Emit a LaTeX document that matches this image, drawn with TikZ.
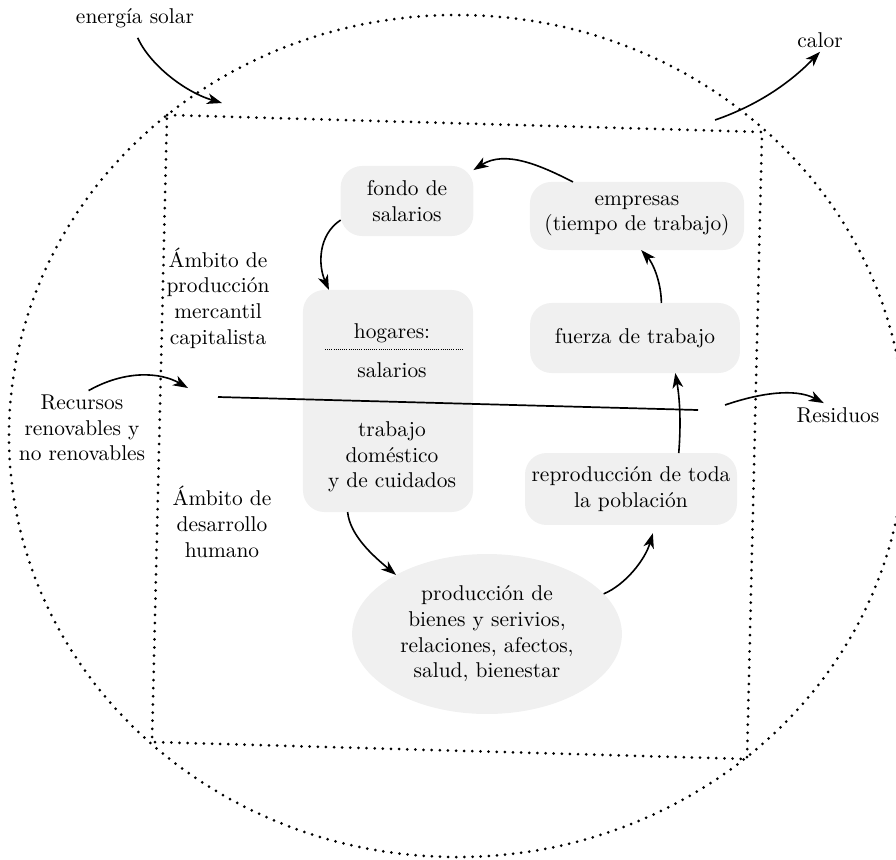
\documentclass[tikz,border=0pt]{standalone}
\usepackage{fontspec}
\usepackage{tikz}
\usetikzlibrary{shapes.geometric}
\usetikzlibrary{arrows.meta}

\begin{document}
\begin{tikzpicture}[x=0.467pt,y=-0.467pt]
\tikzstyle{stip}=[fill=black!6,rounded corners=10pt,inner sep=2pt,outer sep=0pt,align=center]
\tikzstyle{lbl}=[inner sep=2pt,outer sep=0pt,align=center]
\tikzstyle{flow}=[line width=0.75pt,-{Stealth[length=7pt,width=5pt,inset=2pt]}]
\tikzstyle{dotborder}=[line width=1.4pt,line cap=round,dash pattern=on 0pt off 3.8pt]
    \useasboundingbox (0,0) rectangle (896,859);
    \clip (0,0) rectangle (896,859);
    \draw[dotborder] (457,436) ellipse [x radius=448,y radius=421];
    \draw[dotborder] (167,115) -- (762,132) -- (747,759) -- (152,742) -- cycle;
    \node[lbl](sol) at (135,18){energía solar};
    \node[lbl](calor) at (820,40){calor};
    \node[lbl](recursos) at (82,428){Recursos\\renovables y\\no renovables};
    \node[lbl](residuos) at (838,415){Residuos};
    \node[lbl](ambmerc) at (218,298){Ámbito de\\producción\\mercantil\\capitalista};
    \node[lbl](ambdes) at (222,522){Ámbito de\\desarrollo\\humano};
    \node[stip,minimum width=62pt,minimum height=32.7pt](fondo) at (407,201){fondo de\\salarios};
    \node[stip,minimum width=100pt,minimum height=31.8pt](empresas) at (637,216){empresas\\(tiempo de trabajo)};
    \node[stip,minimum width=98pt,minimum height=32.7pt](fuerza) at (635,338){fuerza de trabajo};
    \node[stip,minimum width=79.4pt,minimum height=103.7pt](hogcol) at (388,401){};
    \node[lbl](hogares) at (392,333){hogares:};
    \node[lbl](salarios) at (392,370){salarios};
    \node[lbl](trabajo) at (392,457){trabajo\\doméstico\\y de cuidados};
    \node[stip,minimum width=99pt,minimum height=33.6pt](repro) at (631,489){reproducción de toda\\la población};
    \node[stip,ellipse,minimum width=126pt,minimum height=74.7pt](produc) at (487,634){producción de\\bienes y serivios,\\relaciones, afectos,\\salud, bienestar};
    \coordinate(solin) at (222,103);
    \coordinate(calorout) at (715,120);
    \coordinate(recin) at (188,388);
    \coordinate(resout) at (725,405);
    \coordinate(divL) at (218,397);
    \coordinate(divR) at (698,410);
    %\draw (hogares.south west)--(hogares.south east);
    \draw[line width=0.4pt,dash pattern=on 0.4pt off 0.6pt] (325,349)--(463,349);
    \draw[line width=0.8pt] (divL)--(divR);
    \draw[flow,shorten <=3pt] (sol.south) .. controls (150,65) and (185,92) .. (solin);
    \draw[flow] (calorout) .. controls (750,108) and (785,88) .. (calor.south);
    \draw[flow] (recursos.80) .. controls (125,370) and (160,372) .. (recin);
    \draw[flow] (resout) .. controls (760,393) and (795,388) .. (residuos.140);
    \draw[flow] (empresas.152) .. controls (540,165) and (505,150) .. (fondo.25);
    \draw[flow] (fondo.196) .. controls (318,235) and (318,265) .. (hogcol.118);
    \draw[flow] (fuerza.53) .. controls (661,280) and (652,262) .. (empresas.277);
    \draw[flow] (repro.37) .. controls (681,425) and (680,400) .. (fuerza.319);
    \draw[flow] (hogcol.250) .. controls (350,535) and (372,555) .. (produc.147);
    \draw[flow,shorten >=4pt] (produc.19) .. controls (625,585) and (645,560) .. (repro.304);
\end{tikzpicture}
\end{document}
